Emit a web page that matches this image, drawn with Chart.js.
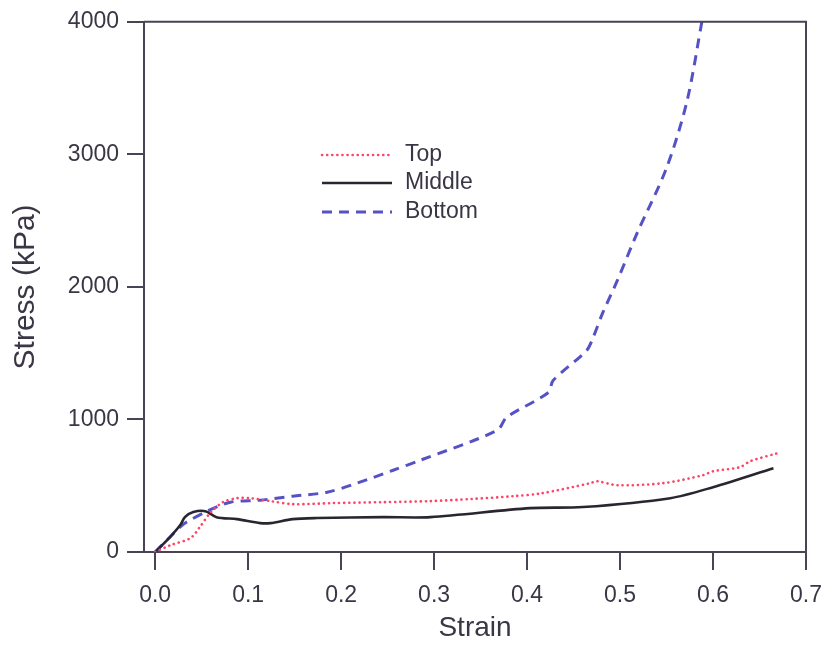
<!DOCTYPE html>
<html>
<head>
<meta charset="utf-8">
<script src="https://cdn.jsdelivr.net/npm/chart.js@4.4.1/dist/chart.umd.min.js"></script>
<style>
  html, body { margin: 0; padding: 0; background: #fff; }
  #wrap { width: 826px; height: 645px; }
</style>
</head>
<body>
<div id="wrap"><canvas id="stressChart"></canvas></div>
<script>
// strain / stress readings (kPa) for the three layers
const topStrain = [0, 0.017, 0.038, 0.048, 0.059, 0.073, 0.088, 0.102, 0.124, 0.148, 0.191, 0.245, 0.296, 0.34, 0.385, 0.414, 0.468, 0.475, 0.497, 0.546, 0.589, 0.600, 0.629, 0.640, 0.669];
const topStress = [0, 53, 105, 188, 293, 376, 406, 406, 384, 361, 369, 376, 384, 400, 421, 441, 519, 534, 504, 519, 579, 609, 640, 685, 745];

const middleStrain = [0, 0.016, 0.027, 0.032, 0.041, 0.054, 0.066, 0.088, 0.113, 0.124, 0.148, 0.174, 0.245, 0.296, 0.403, 0.460, 0.554, 0.600, 0.665];
const middleStress = [0, 113, 203, 263, 301, 308, 263, 248, 218, 218, 248, 256, 263, 263, 331, 339, 406, 489, 632];

const bottomStrain = [0, 0.016, 0.027, 0.034, 0.056, 0.081, 0.113, 0.148, 0.185, 0.217, 0.256, 0.285, 0.368, 0.378, 0.423, 0.428, 0.464, 0.471, 0.481, 0.497, 0.518, 0.550, 0.572, 0.588];
const bottomStress = [0, 113, 190, 226, 308, 376, 391, 421, 451, 519, 617, 692, 918, 1016, 1204, 1294, 1520, 1618, 1798, 2047, 2400, 2897, 3401, 4000];

const xTicks = [0, 0.1, 0.2, 0.3, 0.4, 0.5, 0.6, 0.7];
const yTicks = [0, 1000, 2000, 3000, 4000];

const axisColor = '#4a4356';
const textColor = '#3b3646';
const fontFamily = '"Liberation Sans", Arial, sans-serif';

const toPoints = (xs, ys) => xs.map((x, i) => ({ x: x, y: ys[i] }));

// draws the top and right sides of the box
const frame = {
    id: 'frame',
    afterDraw(chart) {
        const { ctx, chartArea: a } = chart;
        ctx.save();
        ctx.strokeStyle = axisColor;
        ctx.lineWidth = 2;
        ctx.beginPath();
        ctx.moveTo(a.left, a.top);
        ctx.lineTo(a.right, a.top);
        ctx.lineTo(a.right, a.bottom);
        ctx.stroke();
        ctx.restore();
    }
};

// legend sits inside the plot
const innerLegend = {
    id: 'innerLegend',
    afterDraw(chart) {
        const ctx = chart.ctx;
        const x0 = 322, x1 = 392, tx = 405;
        const rows = [155, 183, 212];
        ctx.save();
        ctx.font = '23px ' + fontFamily;
        ctx.textBaseline = 'middle';
        chart.data.datasets.forEach((ds, i) => {
            const y = rows[i];
            ctx.strokeStyle = ds.borderColor;
            ctx.lineWidth = ds.borderWidth;
            ctx.lineCap = ds.borderCapStyle || 'butt';
            ctx.setLineDash(ds.borderDash || []);
            ctx.beginPath();
            ctx.moveTo(x0, y);
            ctx.lineTo(x1, y);
            ctx.stroke();
            ctx.setLineDash([]);
            ctx.fillStyle = textColor;
            ctx.fillText(ds.label, tx, y);
        });
        ctx.restore();
    }
};

const ctx = document.getElementById('stressChart').getContext('2d');
new Chart(ctx, {
    type: 'line',
    data: {
        datasets: [
            {
                label: 'Top',
                data: toPoints(topStrain, topStress),
                borderColor: '#ff4468',
                borderWidth: 2.6,
                borderDash: [0.1, 5],
                borderCapStyle: 'round',
                pointRadius: 0,
                tension: 0.3
            },
            {
                label: 'Middle',
                data: toPoints(middleStrain, middleStress),
                borderColor: '#2a2630',
                borderWidth: 2.6,
                pointRadius: 0,
                tension: 0.3
            },
            {
                label: 'Bottom',
                data: toPoints(bottomStrain, bottomStress),
                borderColor: '#5552c6',
                borderWidth: 3,
                borderDash: [10, 7],
                pointRadius: 0,
                tension: 0.3
            }
        ]
    },
    options: {
        responsive: true,
        maintainAspectRatio: false,
        animation: false,
        layout: { padding: { left: 0, top: 20, right: 20, bottom: 0 } },
        plugins: {
            legend: { display: false },
            tooltip: { enabled: false }
        },
        scales: {
            x: {
                type: 'linear',
                min: -0.012,
                max: 0.7,
                afterBuildTicks: (scale) => { scale.ticks = xTicks.map(v => ({ value: v })); },
                afterFit: (scale) => {
                    scale.height = 93;
                    scale.paddingRight = 0;
                    scale.paddingLeft = 0;
                },
                ticks: {
                    color: textColor,
                    font: { family: fontFamily, size: 23 },
                    padding: 12,
                    maxRotation: 0,
                    callback: (v) => v.toFixed(1)
                },
                grid: {
                    drawOnChartArea: false,
                    drawTicks: true,
                    tickLength: 18,
                    color: axisColor,
                    lineWidth: 2
                },
                border: { display: true, color: axisColor, width: 2 },
                title: {
                    display: true,
                    text: 'Strain',
                    color: textColor,
                    font: { family: fontFamily, size: 28 },
                    padding: { top: 0, bottom: 0 }
                }
            },
            y: {
                min: 0,
                max: 4000,
                afterBuildTicks: (scale) => { scale.ticks = yTicks.map(v => ({ value: v })); },
                afterFit: (scale) => { scale.width = 144; },
                ticks: {
                    color: textColor,
                    font: { family: fontFamily, size: 23 },
                    padding: 8,
                    callback: (v) => String(v)
                },
                grid: {
                    drawOnChartArea: false,
                    drawTicks: true,
                    tickLength: 17,
                    color: axisColor,
                    lineWidth: 2
                },
                border: { display: true, color: axisColor, width: 2 },
                title: {
                    display: true,
                    text: 'Stress (kPa)',
                    color: textColor,
                    font: { family: fontFamily, size: 30 },
                    padding: { top: 8, bottom: 0 }
                }
            }
        }
    },
    plugins: [frame, innerLegend]
});
</script>
</body>
</html>
